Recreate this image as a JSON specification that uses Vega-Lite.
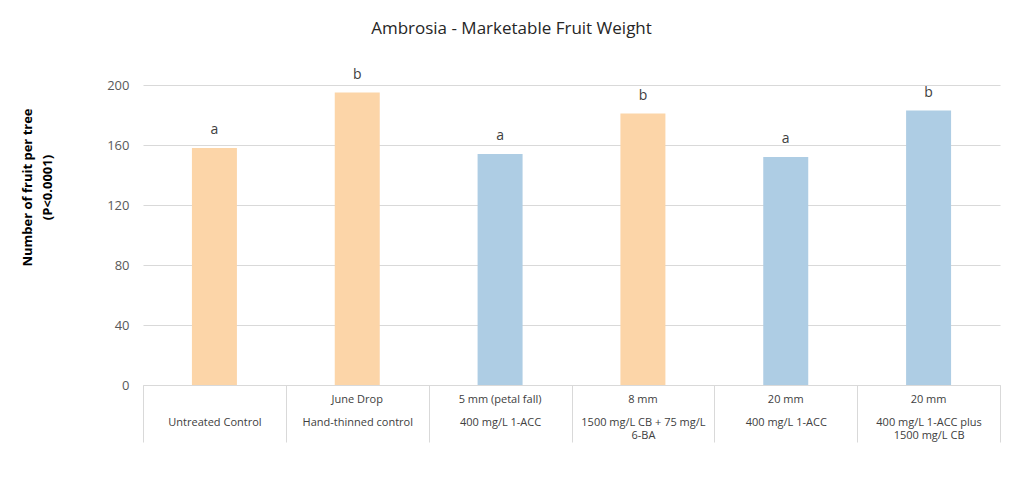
{
  "$schema": "https://vega.github.io/schema/vega-lite/v6.json",
  "width": 857,
  "height": 300,
  "autosize": {"type": "none"},
  "padding": {"left": 143, "top": 85, "right": 24, "bottom": 102},
  "background": "white",
  "title": {
    "text": "Ambrosia - Marketable Fruit Weight",
    "anchor": "middle",
    "frame": "group",
    "dx": -60,
    "offset": 22,
    "fontSize": 17,
    "fontWeight": "normal",
    "font": "Open Sans",
    "color": "#262626",
    "baseline": "middle"
  },
  "config": {
    "font": "Open Sans",
    "view": {"stroke": null}
  },
  "data": {
    "values": [
      {"category": "Untreated Control|", "fruit": 158, "letter": "a", "group": "orange"},
      {"category": "Hand-thinned control|June Drop", "fruit": 195, "letter": "b", "group": "orange"},
      {"category": "400 mg/L 1-ACC|5 mm (petal fall)", "fruit": 154, "letter": "a", "group": "blue"},
      {"category": "1500 mg/L CB + 75 mg/L~6-BA|8 mm", "fruit": 181, "letter": "b", "group": "orange"},
      {"category": "400 mg/L 1-ACC|20 mm", "fruit": 152, "letter": "a", "group": "blue"},
      {"category": "400 mg/L 1-ACC plus~1500 mg/L CB|20 mm", "fruit": 183, "letter": "b", "group": "blue"}
    ]
  },
  "encoding": {
    "x": {
      "field": "category",
      "type": "nominal",
      "sort": null,
      "scale": {"paddingInner": 0, "paddingOuter": 0}
    },
    "y": {
      "field": "fruit",
      "type": "quantitative",
      "scale": {"domain": [0, 200], "nice": false},
      "axis": {
        "values": [0, 40, 80, 120, 160, 200],
        "title": ["Number of fruit per tree", "(P<0.0001)"],
        "titleFontSize": 13,
        "titleFontWeight": "bold",
        "titleColor": "#000000",
        "titleAngle": -90,
        "titleX": -116,
        "titleY": 102,
        "titleAlign": "center",
        "titleBaseline": "middle",
        "titleLineHeight": 20,
        "domain": false,
        "ticks": false,
        "labelPadding": 14,
        "labelFontSize": 13,
        "labelColor": "#595959",
        "grid": true,
        "gridColor": "#D9D9D9",
        "gridWidth": 1
      }
    }
  },
  "layer": [
    {
      "mark": {"type": "bar", "width": {"band": 0.315}},
      "encoding": {
        "x": {
          "field": "category",
          "type": "nominal",
          "sort": null,
          "axis": {
            "orient": "bottom",
            "title": null,
            "labelAngle": 0,
            "domain": true,
            "domainColor": "#D9D9D9",
            "ticks": true,
            "tickBand": "extent",
            "tickSize": 57,
            "tickColor": "#D9D9D9",
            "labelExpr": "isValid(datum.value) ? split(split(datum.value, '|')[0], '~') : ''",
            "labelPadding": -26,
            "labelFontSize": 11,
            "labelLineHeight": 13,
            "labelColor": "#404040",
            "labelLimit": 200
          }
        },
        "color": {
          "field": "group",
          "type": "nominal",
          "scale": {"domain": ["orange", "blue"], "range": ["#FCD5A8", "#AECDE4"]},
          "legend": null
        }
      }
    },
    {
      "mark": {"type": "text", "dy": -11, "fontSize": 14, "color": "#404040", "baseline": "bottom"},
      "encoding": {
        "text": {"field": "letter"},
        "x": {
          "field": "category",
          "type": "nominal",
          "sort": null,
          "axis": {
            "orient": "bottom",
            "title": null,
            "labelAngle": 0,
            "domain": false,
            "ticks": false,
            "labelExpr": "isValid(datum.value) ? split(datum.value, '|')[1] : ''",
            "labelPadding": 8,
            "labelFontSize": 11,
            "labelColor": "#404040",
            "labelLimit": 200
          }
        }
      }
    }
  ],
  "resolve": {"axis": {"x": "independent"}}
}
